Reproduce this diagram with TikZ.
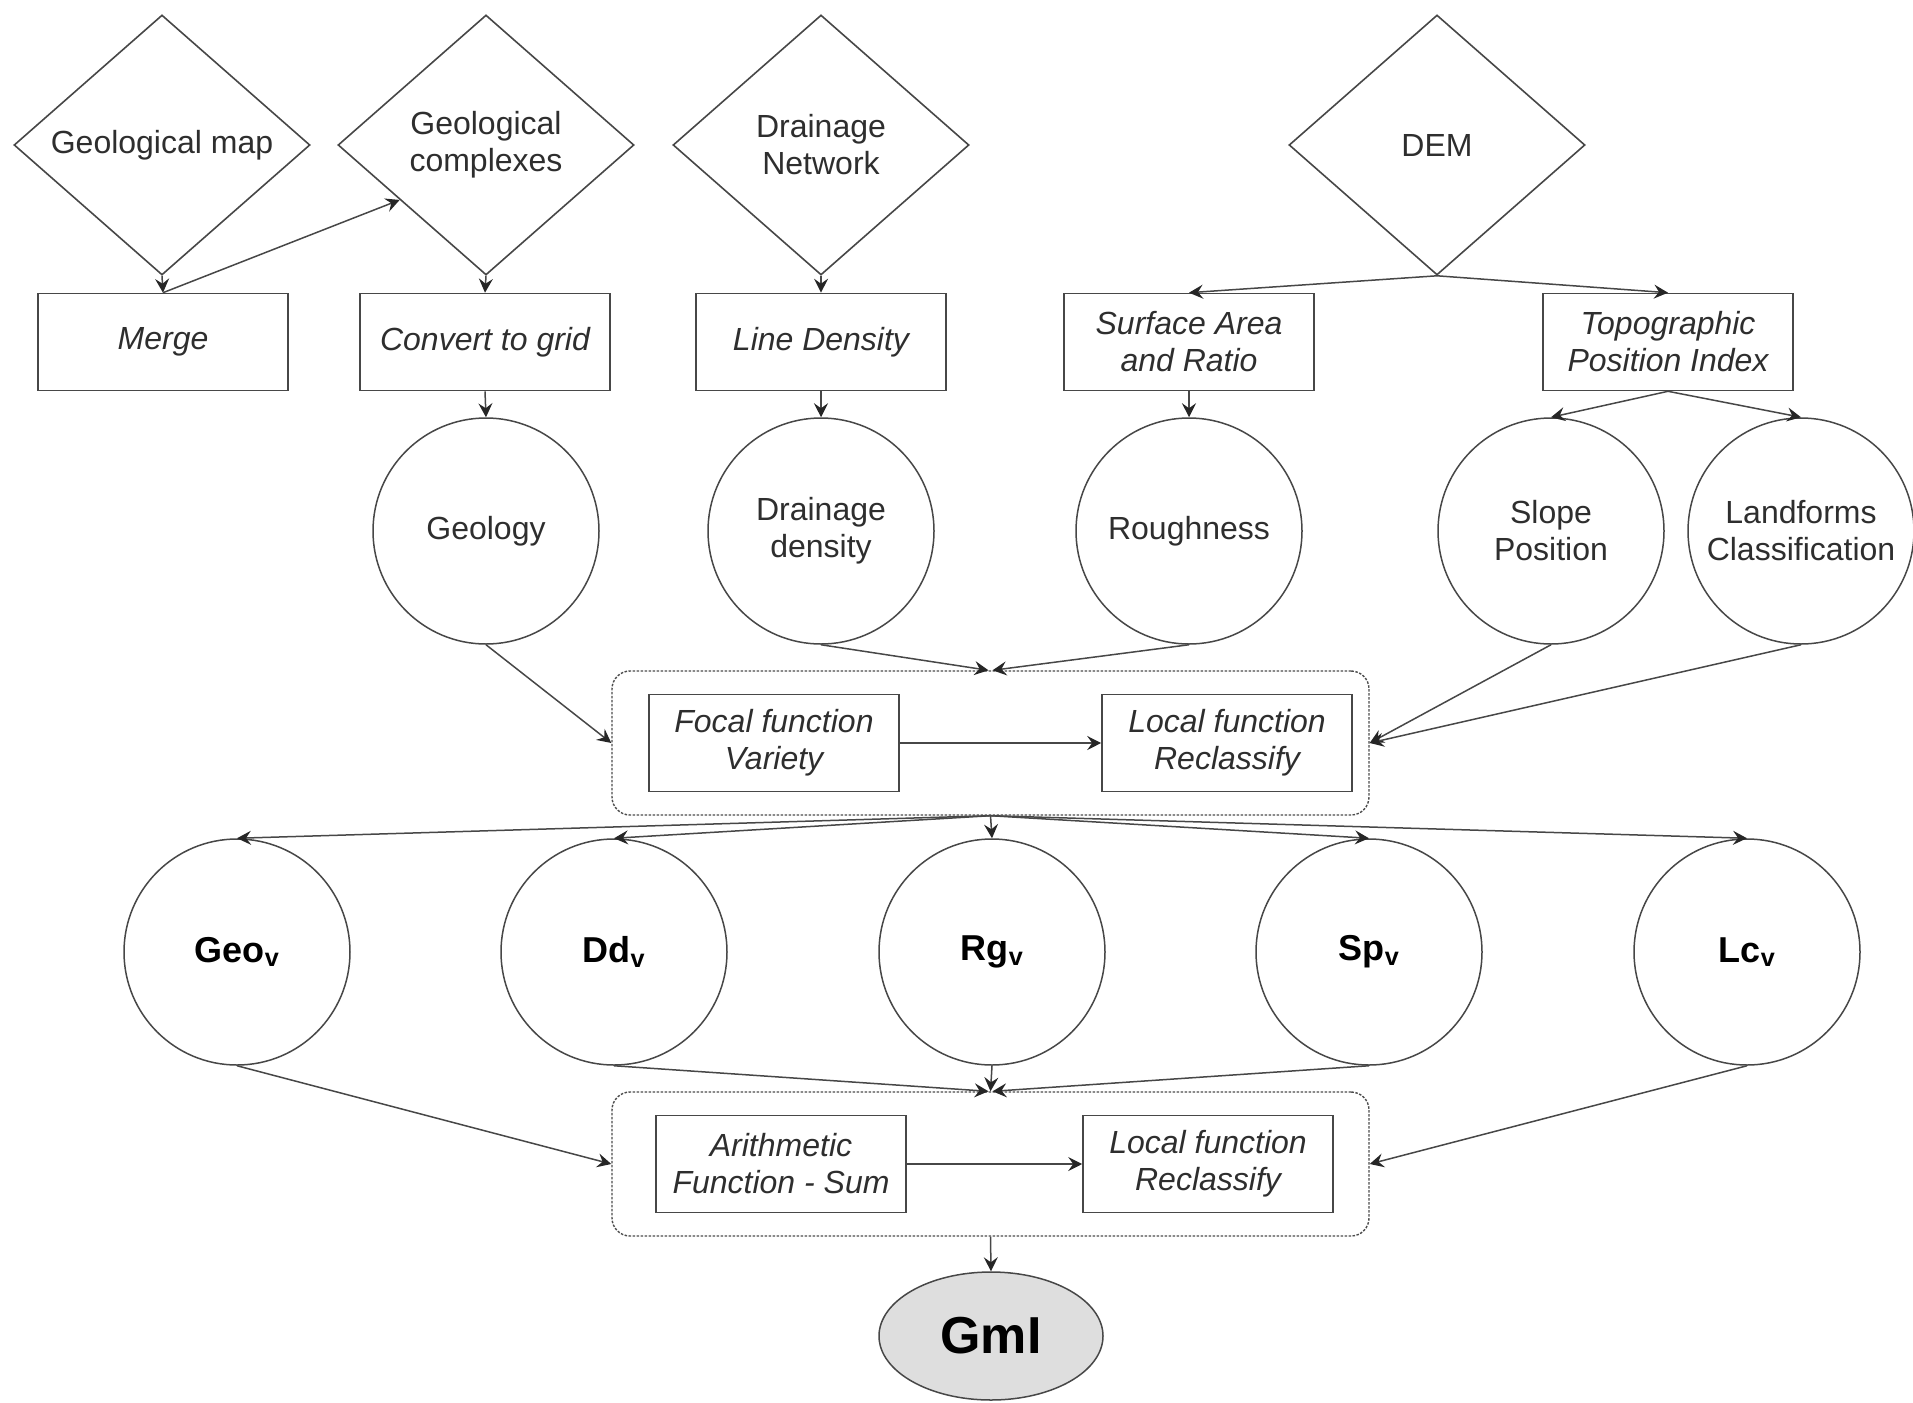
\documentclass[tikz,border=0pt]{standalone}
\usepackage{fontspec}
\setmainfont{Liberation Sans}
\usetikzlibrary{shapes.geometric,arrows.meta,calc}
\begin{document}
\begin{tikzpicture}[x=1pt,y=-1pt,
  every node/.style={text=black!82, font=\fontsize{32}{37}\selectfont},
  dia/.style={diamond, draw=black!72, line width=1.6pt, minimum width=296pt, minimum height=260pt, inner sep=0pt, align=center},
  proc/.style={rectangle, draw=black!72, line width=1.6pt, minimum width=250pt, minimum height=97pt, inner sep=2pt, align=center, font=\fontsize{32}{37}\selectfont\itshape},
  circ/.style={circle, draw=black!72, line width=1.5pt, minimum size=226pt, inner sep=0pt, align=center},
  vcirc/.style={circ, text=black, font=\fontsize{36}{42}\selectfont\bfseries},
  grp/.style={rectangle, rounded corners=18pt, draw=black!70, line width=1.4pt, dash pattern=on 2.5pt off 1.5pt, minimum width=757pt, minimum height=144pt},
  arr/.style={draw=black!72, line width=1.5pt, -{Stealth[length=14pt,width=14pt,inset=5pt,black!85]}},
]
\useasboundingbox (0,0) rectangle (1913,1402);

% row 1: diamonds
\node[dia] (gmap) at (162,145) {Geological map};
\node[dia] (gcomp) at (486,145) {Geological\\complexes};
\node[dia] (dnet) at (821,145) {Drainage\\Network};
\node[dia] (dem) at (1437,145) {DEM};

% row 2: process boxes
\node[proc] (merge) at (163,342) {Merge};
\node[proc] (conv) at (485,342) {Convert to grid};
\node[proc] (lden) at (821,342) {Line Density};
\node[proc] (sar) at (1189,342) {Surface Area\\and Ratio};
\node[proc] (tpi) at (1668,342) {Topographic\\Position Index};

% row 3: circles
\node[circ] (geol) at (486,531) {Geology};
\node[circ] (dden) at (821,531) {Drainage\\density};
\node[circ] (rough) at (1189,531) {Roughness};
\node[circ] (slope) at (1551,531) {Slope\\Position};
\node[circ] (land) at (1801,531) {Landforms\\Classification};

% group 1
\node[grp] (g1) at (990.5,743) {};
\node[proc] (focal) at (774,743) {Focal function\\Variety};
\node[proc] (loc1) at (1227,743) {Local function\\Reclassify};

% row 5: variety circles
\node[vcirc] (geov) at (237,952) {Geo\textsubscript{v}};
\node[vcirc] (ddv) at (614,952) {Dd\textsubscript{v}};
\node[vcirc] (rgv) at (992,952) {Rg\textsubscript{v}};
\node[vcirc] (spv) at (1369,952) {Sp\textsubscript{v}};
\node[vcirc] (lcv) at (1747,952) {Lc\textsubscript{v}};

% group 2
\node[grp] (g2) at (990.5,1164) {};
\node[proc] (arith) at (781,1164) {Arithmetic\\Function - Sum};
\node[proc] (loc2) at (1208,1164) {Local function\\Reclassify};

% result
\node[ellipse, draw=black!72, line width=1.5pt, fill=black!13, minimum width=224pt, minimum height=128pt, inner sep=0pt, text=black, font=\fontsize{52}{60}\selectfont\bfseries] (gml) at (991,1336) {GmI};

% connectors
\coordinate (gcin) at ($(gcomp.west)!0.42!(gcomp.south)$);
\draw[arr] (gmap.south) -- (merge.north);
\draw[arr] (merge.north) -- (gcin);
\draw[arr] (gcomp.south) -- (conv.north);
\draw[arr] (dnet.south) -- (lden.north);
\draw[arr] (dem.south) -- (sar.north);
\draw[arr] (dem.south) -- (tpi.north);
\draw[arr] (conv.south) -- (geol.north);
\draw[arr] (lden.south) -- (dden.north);
\draw[arr] (sar.south) -- (rough.north);
\draw[arr] (tpi.south) -- (slope.north);
\draw[arr] (tpi.south) -- (land.north);

\draw[arr] (geol.south) -- (g1.west);
\draw[arr] (dden.south) -- ([xshift=-2pt]g1.north);
\draw[arr] (rough.south) -- ([xshift=2pt]g1.north);
\draw[arr] (slope.south) -- (g1.east);
\draw[arr] (land.south) -- (g1.east);
\draw[arr] (focal.east) -- (loc1.west);

\draw[arr] (g1.south) -- (geov.north);
\draw[arr] (g1.south) -- (ddv.north);
\draw[arr] (g1.south) -- (rgv.north);
\draw[arr] (g1.south) -- (spv.north);
\draw[arr] (g1.south) -- (lcv.north);

\draw[arr] (geov.south) -- (g2.west);
\draw[arr] (ddv.south) -- ([xshift=-2pt]g2.north);
\draw[arr] (rgv.south) -- (g2.north);
\draw[arr] (spv.south) -- ([xshift=2pt]g2.north);
\draw[arr] (lcv.south) -- (g2.east);
\draw[arr] (arith.east) -- (loc2.west);

\draw[arr] (g2.south) -- (gml.north);
\end{tikzpicture}
\end{document}
